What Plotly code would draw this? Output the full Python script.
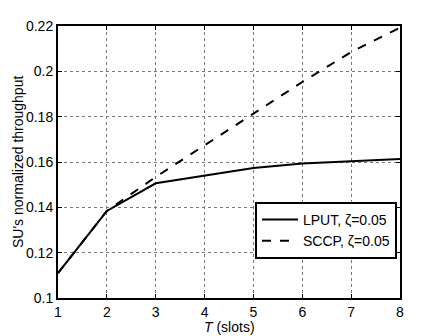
import plotly.graph_objects as go

# slot counts on the x-axis
T_slots = [1, 2, 3, 4, 5, 6, 7, 8]
# normalized throughput
lput = [0.111, 0.1384, 0.1506, 0.1540, 0.1574, 0.1593, 0.1604, 0.1613]
sccp = [0.111, 0.1384, 0.1534, 0.1674, 0.1813, 0.1953, 0.2085, 0.2193]
y_ticks = [0.1, 0.12, 0.14, 0.16, 0.18, 0.2, 0.22]
y_labels = ['0.1', '0.12', '0.14', '0.16', '0.18', '0.2', '0.22']

font = 'Liberation Sans, Arial, sans-serif'

fig = go.Figure()
fig.add_trace(go.Scatter(x=T_slots, y=lput, mode='lines', name='LPUT, ζ=0.05',
                         line=dict(color='black', width=2)))
fig.add_trace(go.Scatter(x=T_slots, y=sccp, mode='lines', name='SCCP, ζ=0.05',
                         line=dict(color='black', width=2, dash='dash')))

axis_common = dict(showline=True, linecolor='black', linewidth=2, mirror='ticks',
                   ticks='inside', ticklen=4, tickcolor='black', automargin=False,
                   showgrid=True, gridcolor='#777', griddash='dot', gridwidth=1,
                   zeroline=False, tickfont=dict(family=font, size=14, color='black'))

fig.update_xaxes(range=[1, 8], tickvals=T_slots, **axis_common)
fig.update_yaxes(range=[0.1, 0.22], tickvals=y_ticks, ticktext=y_labels, **axis_common)

# axis titles as annotations so they sit exactly where the reference has them
fig.add_annotation(text='<i>T</i> (slots)', xref='paper', yref='paper', x=0.5, y=0,
                   xanchor='center', yanchor='top', yshift=-19, showarrow=False,
                   font=dict(family=font, size=14, color='black'))
fig.add_annotation(text="SU's normalized throughput", xref='paper', yref='paper',
                   x=0, y=0.5, xanchor='center', yanchor='middle', xshift=-40,
                   textangle=-90, showarrow=False,
                   font=dict(family=font, size=14, color='black'))

# page body adds an 8 px offset, so the figure is sized to fit inside it
fig.update_layout(
    width=434, height=328,
    margin=dict(l=50, r=42, t=18, b=38),
    paper_bgcolor='white', plot_bgcolor='white',
    font=dict(family=font, size=13, color='black'),
    legend=dict(x=0.576, y=0.353, xanchor='left', yanchor='top',
                bgcolor='white', bordercolor='black', borderwidth=2,
                font=dict(family=font, size=14, color='black'),
                tracegroupgap=0, itemwidth=36),
)

fig.write_html("out.html")
